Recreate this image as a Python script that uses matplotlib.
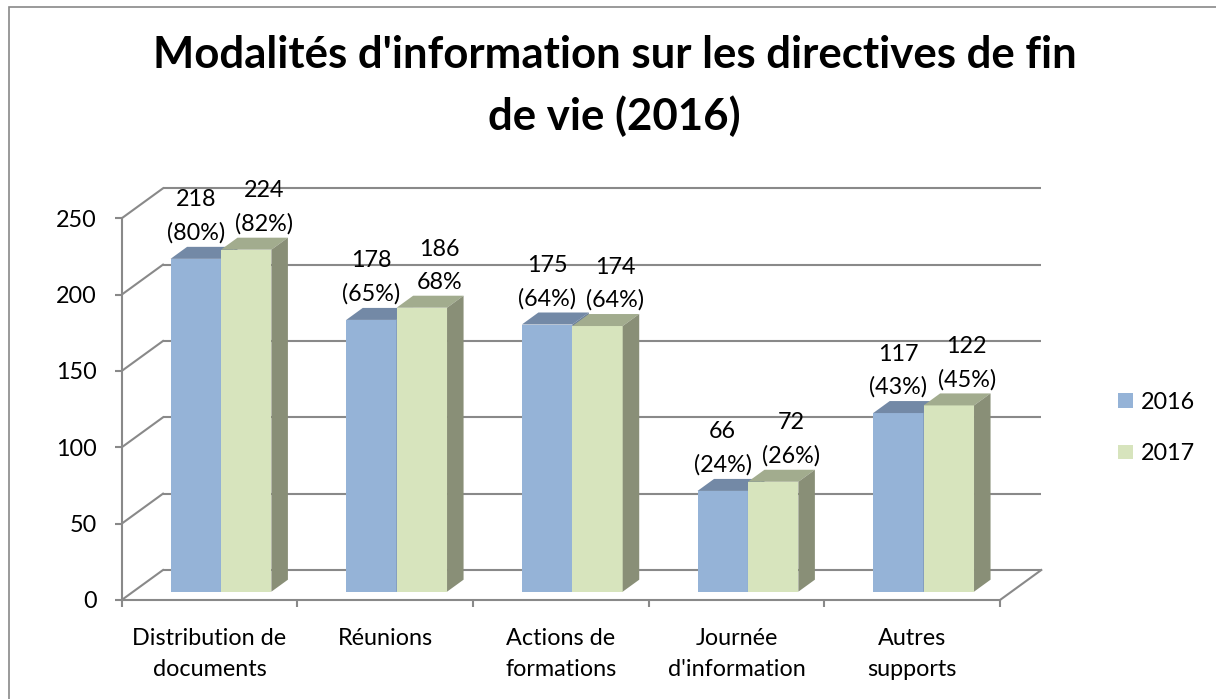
import matplotlib
matplotlib.use("Agg")
import matplotlib.pyplot as plt
import numpy as np
from matplotlib.patches import Polygon, Rectangle

# data
categories = ["Distribution de\ndocuments", "Réunions", "Actions de\nformations",
              "Journée\nd'information", "Autres\nsupports"]
series = ["2016", "2017"]
values_2016 = [218, 178, 175, 66, 117]
values_2017 = [224, 186, 174, 72, 122]
pct_2016 = ["(80%)", "(65%)", "(64%)", "(24%)", "(43%)"]
pct_2017 = ["(82%)", "68%", "(64%)", "(26%)", "(45%)"]
y_ticks = [0, 50, 100, 150, 200, 250]
title = "Modalités d'information sur les directives de fin\nde vie (2016)"

plt.rcParams["font.family"] = ["Lato", "DejaVu Sans"]
FS = 16.8
GRID = "#898989"
FRONT = ["#95B3D7", "#D7E4BD"]
TOP = ["#7389A6", "#A2AC8E"]
SIDE = ["#6A7F9B", "#898F77"]

W, H = 1216, 699
fig = plt.figure(figsize=(W / 100, H / 100), dpi=100)

# axes = front plane of the 3d box
ax = fig.add_axes([121.7 / W, 99 / H, 878.3 / W, 381.7 / H])
ax.set_xlim(-0.5, 4.5)
ax.set_ylim(0, 250)
ax.patch.set_visible(False)

ppx = 878.3 / 5      # pixels per category
ppy = 381.7 / 250    # pixels per value unit
DX, DY = 41.3 / ppx, 30 / ppy   # full box depth, data units
Z0, Z1 = 0.277, 0.677           # depth span of the bars
bw = 0.287

# back wall and left wall lines
for v in y_ticks:
    ax.plot([-0.5 + DX, 4.5 + DX], [v + DY, v + DY], color=GRID, lw=1.5,
            clip_on=False, zorder=1, solid_capstyle="butt")
    ax.plot([-0.5, -0.5 + DX], [v, v + DY], color=GRID, lw=1.5,
            clip_on=False, zorder=1)
ax.plot([4.5, 4.5 + DX], [0, DY], color=GRID, lw=1.5, clip_on=False, zorder=1)

# bars with fake depth
base = Z0 * DY
ddx, ddy = (Z1 - Z0) * DX, (Z1 - Z0) * DY
label_shift = [0, 18 / ppx]
handles = []
for s, (vals, pcts) in enumerate([(values_2016, pct_2016), (values_2017, pct_2017)]):
    xs = np.arange(len(vals)) - bw + s * bw + Z0 * DX
    bars = ax.bar(xs, vals, width=bw, bottom=base, align="edge", color=FRONT[s],
                  label=series[s], zorder=3 + s, clip_on=False)
    handles.append(bars)
    for x, v, p in zip(xs, vals, pcts):
        top = base + v
        ax.add_patch(Polygon([(x, top), (x + bw, top), (x + bw + ddx, top + ddy),
                              (x + ddx, top + ddy)], closed=True, color=TOP[s],
                             zorder=3 + s, clip_on=False, lw=0))
        ax.add_patch(Polygon([(x + bw, base), (x + bw + ddx, base + ddy),
                              (x + bw + ddx, top + ddy), (x + bw, top)], closed=True,
                             color=SIDE[s], zorder=3 + s, clip_on=False, lw=0))
        ax.text(x + bw / 2 + label_shift[s], top + ddy + 3 / ppy, f"{v}\n{p}",
                ha="center", va="bottom", fontsize=FS, linespacing=1.68,
                zorder=6, clip_on=False)

# axes, ticks
for side in ["top", "right"]:
    ax.spines[side].set_visible(False)
for side in ["left", "bottom"]:
    ax.spines[side].set_color(GRID)
    ax.spines[side].set_linewidth(1.5)
ax.set_yticks(y_ticks)
ax.tick_params(axis="y", length=5.4, width=1.5, color=GRID, pad=12.5, labelsize=FS)
ax.set_xticks(np.arange(-0.5, 5, 1))
ax.set_xticklabels([])
ax.set_xticks(np.arange(len(categories)), minor=True)
ax.set_xticklabels(categories, minor=True, fontsize=FS, linespacing=1.62)
ax.tick_params(axis="x", which="major", length=5, width=1.5, color=GRID)
ax.tick_params(axis="x", which="minor", length=0, pad=20)

ax.legend(handles=handles, loc="center left", bbox_to_anchor=(1118 / W, 1 - 428 / H),
          bbox_transform=fig.transFigure, frameon=False, fontsize=FS,
          handlelength=0.63, handleheight=0.6, handletextpad=0.35,
          labelspacing=1.3, borderpad=0, borderaxespad=0)

fig.text(614.5 / W, 1 - 130 / H, title, ha="center", va="baseline",
         fontsize=31.5, fontweight="bold", linespacing=1.6)

# chart border (right and bottom edges fall outside the picture)
fig.patches.append(Rectangle((9.3 / W, -0.1), 1.2, 1.1 - 7.3 / H, fill=False,
                             edgecolor=GRID, lw=1.2, transform=fig.transFigure))

fig.savefig("out.png", dpi=100)
